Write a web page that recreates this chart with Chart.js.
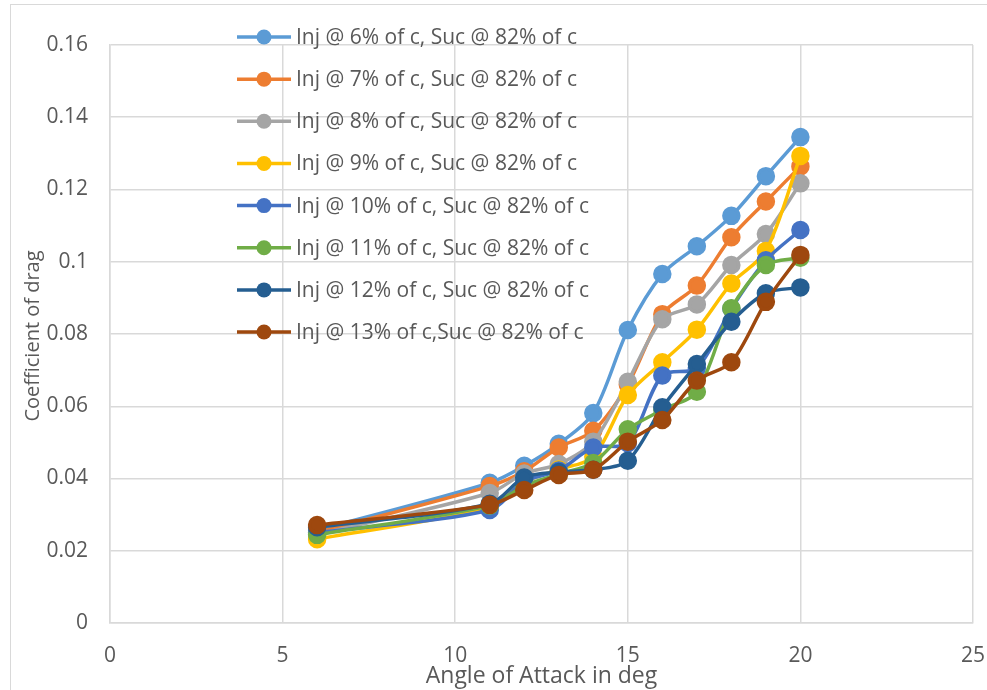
<!DOCTYPE html>
<html>
<head>
<meta charset="utf-8">
<script src="https://cdn.jsdelivr.net/npm/chart.js@4.4.1/dist/chart.umd.min.js"></script>
<style>
  html, body { margin: 0; padding: 0; background: #fff; }
  #wrap { width: 987px; height: 690px; position: relative; }
</style>
</head>
<body>
<div id="wrap"><canvas id="dragChart" width="987" height="690"></canvas></div>
<script>
// angle of attack (deg)
const angles = [6, 11, 12, 13, 14, 15, 16, 17, 18, 19, 20];

// drag coefficient per injection position
const inj6  = [0.0257, 0.0388, 0.0435, 0.0496, 0.0581, 0.0811, 0.0966, 0.1043, 0.1127, 0.1237, 0.1345];
const inj7  = [0.0250, 0.0379, 0.0420, 0.0486, 0.0532, 0.0660, 0.0855, 0.0934, 0.1068, 0.1167, 0.1264];
const inj8  = [0.0245, 0.0360, 0.0414, 0.0440, 0.0502, 0.0668, 0.0841, 0.0882, 0.0991, 0.1077, 0.1217];
const inj9  = [0.0232, 0.0320, 0.0390, 0.0425, 0.0460, 0.0631, 0.0722, 0.0812, 0.0940, 0.1030, 0.1293];
const inj10 = [0.0250, 0.0313, 0.0392, 0.0422, 0.0486, 0.0498, 0.0685, 0.0706, 0.0870, 0.1004, 0.1088];
const inj11 = [0.0244, 0.0325, 0.0380, 0.0412, 0.0443, 0.0536, 0.0590, 0.0640, 0.0871, 0.0991, 0.1011];
const inj12 = [0.0265, 0.0330, 0.0403, 0.0418, 0.0424, 0.0449, 0.0597, 0.0717, 0.0834, 0.0913, 0.0929];
const inj13 = [0.0271, 0.0327, 0.0368, 0.0410, 0.0424, 0.0502, 0.0562, 0.0671, 0.0722, 0.0889, 0.1019];

const seriesNames = [
  "Inj @ 6% of c, Suc @ 82% of c",
  "Inj @ 7% of c, Suc @ 82% of c",
  "Inj @ 8% of c, Suc @ 82% of c",
  "Inj @ 9% of c, Suc @ 82% of c",
  "Inj @ 10% of c, Suc @ 82% of c",
  "Inj @ 11% of c, Suc @ 82% of c",
  "Inj @ 12% of c, Suc @ 82% of c",
  "Inj @ 13% of c,Suc @ 82% of c"
];
const seriesValues = [inj6, inj7, inj8, inj9, inj10, inj11, inj12, inj13];
const colors = ["#5B9BD5", "#ED7D31", "#A5A5A5", "#FFC000", "#4472C4", "#70AD47", "#255E91", "#9E480E"];

const xTitle = "Angle of Attack in deg";
const yTitle = "Coefficient of drag";

const textColor = "#595959";
const gridColor = "#d9d9d9";
const fontFamily = "'Open Sans', sans-serif";

const datasets = seriesValues.map((vals, i) => ({
  label: seriesNames[i],
  data: vals.map((v, j) => ({x: angles[j], y: v})),
  borderColor: colors[i],
  backgroundColor: colors[i],
  pointBackgroundColor: colors[i],
  pointBorderColor: colors[i],
  borderWidth: 3.5,
  pointRadius: 7.5,
  pointHoverRadius: 7.5,
  tension: 0.3,
  order: seriesValues.length - i // later series drawn on top, like excel
}));

// legend sits inside the plot area, drawn by hand
const insideLegend = {
  id: "insideLegend",
  afterDatasetsDraw(chart) {
    const ctx = chart.ctx;
    ctx.save();
    ctx.font = "21px " + fontFamily;
    ctx.textBaseline = "middle";
    chart.data.datasets.forEach((ds, i) => {
      const y = 37 + i * 42.15;
      ctx.strokeStyle = ds.borderColor;
      ctx.lineWidth = 3.5;
      ctx.beginPath();
      ctx.moveTo(237, y);
      ctx.lineTo(291, y);
      ctx.stroke();
      ctx.fillStyle = ds.borderColor;
      ctx.beginPath();
      ctx.arc(264, y, 7.5, 0, Math.PI * 2);
      ctx.fill();
      ctx.fillStyle = textColor;
      ctx.fillText(ds.label, 296, y + 1);
    });
    ctx.restore();
  }
};

// axis titles + thin outer border
const extras = {
  id: "extras",
  afterDraw(chart) {
    const ctx = chart.ctx;
    const area = chart.chartArea;
    ctx.save();
    ctx.fillStyle = textColor;
    ctx.textAlign = "center";
    ctx.textBaseline = "alphabetic";
    ctx.font = "23px " + fontFamily;
    ctx.fillText(xTitle, (area.left + area.right) / 2, 683);

    ctx.font = "20px " + fontFamily;
    ctx.textBaseline = "middle";
    ctx.translate(33, 336);
    ctx.rotate(-Math.PI / 2);
    ctx.fillText(yTitle, 0, 0);
    ctx.restore();

    ctx.save();
    ctx.strokeStyle = gridColor;
    ctx.lineWidth = 1;
    ctx.strokeRect(10.5, 4.5, 1000, 1000);
    ctx.restore();
  }
};

const ctx = document.getElementById("dragChart");
new Chart(ctx, {
  type: "line",
  data: { datasets: datasets },
  options: {
    responsive: false,
    animation: false,
    events: [],
    layout: { padding: { top: 45, right: 14, left: 0, bottom: 0 } },
    plugins: {
      legend: { display: false },
      tooltip: { enabled: false }
    },
    scales: {
      x: {
        type: "linear",
        min: 0,
        max: 25,
        ticks: { stepSize: 5, color: textColor, font: { family: fontFamily, size: 21 }, padding: 20, maxRotation: 0 },
        grid: { color: gridColor, lineWidth: 1.5, drawTicks: false },
        border: { color: gridColor, width: 1.5 },
        afterFit(scale) {
          scale.height = 67;
          scale.paddingLeft = 0;
          scale.paddingRight = 0;
        }
      },
      y: {
        min: 0,
        max: 0.16,
        ticks: {
          stepSize: 0.02,
          color: textColor,
          font: { family: fontFamily, size: 21 },
          padding: 22,
          callback: (v) => String(parseFloat(v.toFixed(2)))
        },
        grid: { color: gridColor, lineWidth: 1.5, drawTicks: false },
        border: { color: gridColor, width: 1.5 },
        afterFit(scale) {
          scale.width = 110;
          scale.paddingTop = 0;
          scale.paddingBottom = 0;
        }
      }
    }
  },
  plugins: [insideLegend, extras]
});
</script>
</body>
</html>
